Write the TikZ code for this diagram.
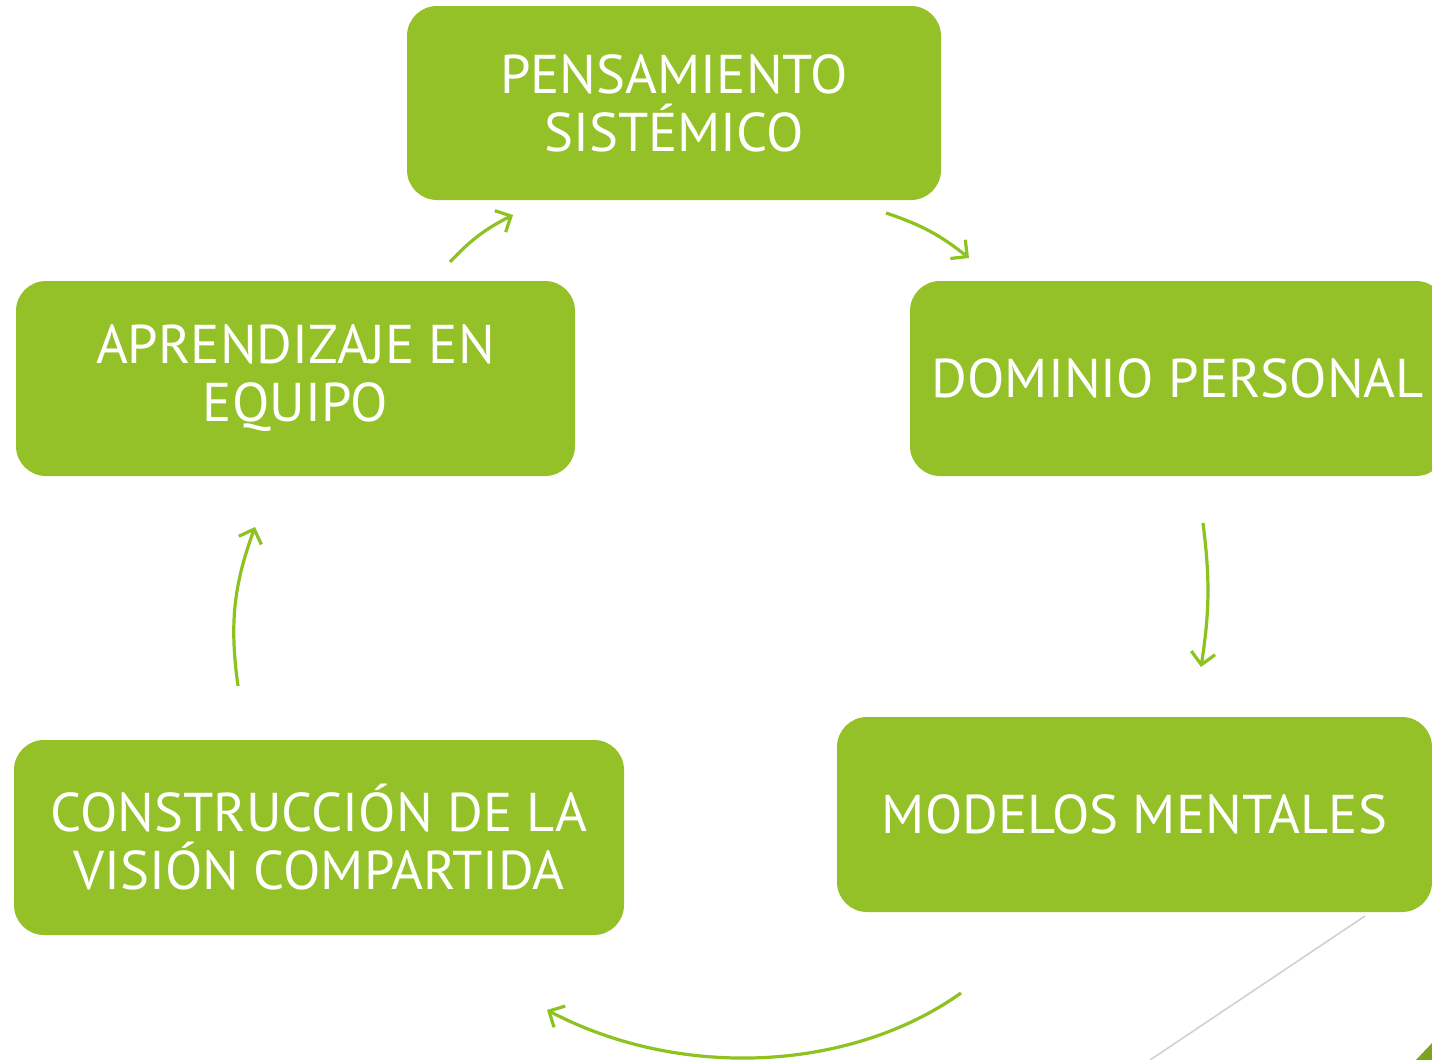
\documentclass[tikz,border=0pt]{standalone}
\usepackage{fontspec}
\setmainfont{PT Sans}
\usetikzlibrary{arrows.meta}
\definecolor{boxgreen}{HTML}{93C127}
\definecolor{arrgreen}{HTML}{8DC21F}
\tikzset{
  box/.style={fill=boxgreen, rounded corners=15pt, text=white, align=center,
    font=\fontsize{27.3}{29}\selectfont, inner sep=0pt},
  flow/.style={draw=arrgreen, line width=1.6pt,
    -{Straight Barb[length=6pt,width=12pt,line width=1.6pt]}}
}
\begin{document}
\begin{tikzpicture}[x=0.5pt,y=-0.5pt]
\useasboundingbox[fill=white] (0,0) rectangle (1432,1060);
\node[box, minimum width=267pt, minimum height=97pt] (pens) at (674,103) {PENSAMIENTO\\SIST\'EMICO};
\node[box, minimum width=279.5pt, minimum height=97.5pt] (apre) at (295.5,378.5) {APRENDIZAJE EN\\EQUIPO};
\node[box, minimum width=268pt, minimum height=97.5pt] (domi) at (1178,378.5) {DOMINIO PERSONAL};
\node[box, minimum width=297.5pt, minimum height=97.5pt] (mode) at (1134.5,814.5) {MODELOS MENTALES};
\node[box, minimum width=305pt, minimum height=97.5pt] (cons) at (319,837.5) {CONSTRUCCI\'ON DE LA\\VISI\'ON COMPARTIDA};
% connector end points
\coordinate (a1s) at (450,262); \coordinate (a1e) at (513,215);
\coordinate (a2s) at (886,213); \coordinate (a2e) at (969,258);
\coordinate (a3s) at (1203,523); \coordinate (a3e) at (1201,667);
\coordinate (a4s) at (961,993); \coordinate (a4e) at (547,1010);
\coordinate (a5s) at (238,686); \coordinate (a5e) at (255,527);
\draw[flow] (a1s) to[bend left=10] (a1e);
\draw[flow] (a2s) to[bend left=10] (a2e);
\draw[flow] (a3s) to[bend left=8] (a3e);
\draw[flow] (a4s) .. controls (850,1072) and (680,1080) .. (a4e);
\draw[flow] (a5s) to[bend left=14] (a5e);
% decorations
\draw[color=black!18, line width=0.8pt] (1365,916) -- (1150,1060);
\fill[color=boxgreen!85!black] (1432,1043) -- (1432,1060) -- (1416,1060) -- cycle;
\end{tikzpicture}
\end{document}
